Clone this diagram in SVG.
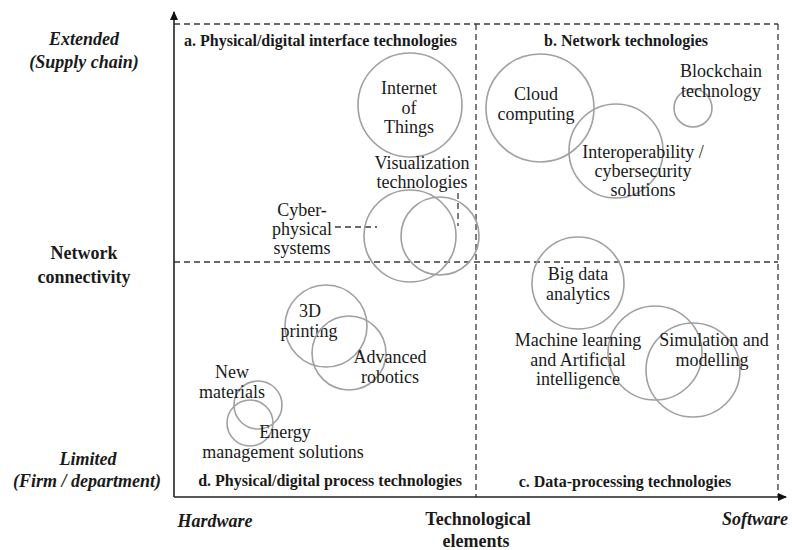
<svg xmlns="http://www.w3.org/2000/svg" width="792" height="550" viewBox="0 0 792 550">
<style>
text{font-family:"Liberation Serif","Times New Roman",serif;fill:#1a1a1a}
.t{font-size:18px;text-anchor:middle}
.sec{font-size:16px;font-weight:bold}
.side{font-size:18px;font-weight:bold;text-anchor:middle}
.it{font-style:italic}
.c{fill:none;stroke:#a0a0a0;stroke-width:1.6}
.dash{fill:none;stroke:#3a3a3a;stroke-width:1.3;stroke-dasharray:6,4}
.axis{fill:none;stroke:#222;stroke-width:1.6}
</style>
<defs>
<marker id="ah" markerWidth="10" markerHeight="10" refX="8" refY="5" orient="auto" markerUnits="userSpaceOnUse">
<path d="M0,1 L9,5 L0,9 Z" fill="#111"/>
</marker>
</defs>
<rect width="792" height="550" fill="#fff"/>
<g id="connectors">
<line class="dash" x1="174" y1="24" x2="778" y2="24"/>
<line class="dash" x1="174" y1="262" x2="778" y2="262"/>
<line class="dash" x1="476" y1="24" x2="476" y2="497"/>
<line class="dash" x1="778" y1="24" x2="778" y2="497"/>
<line class="dash" x1="335" y1="227" x2="377" y2="227"/>
<line class="dash" x1="458" y1="193" x2="458" y2="226" stroke-width="2"/>
<line class="axis" x1="174" y1="497" x2="174" y2="12" marker-end="url(#ah)"/>
<line class="axis" x1="174" y1="497" x2="786" y2="497" marker-end="url(#ah)"/>
</g>
<g id="axis-labels">
<text class="side it" x="84" y="45">Extended</text>
<text class="side it" x="84" y="68">(Supply chain)</text>
<text class="side" x="84" y="259">Network</text>
<text class="side" x="84" y="283">connectivity</text>
<text class="side it" x="88" y="465">Limited</text>
<text class="side it" x="87" y="487">(Firm / department)</text>
<text class="side it" x="215" y="527">Hardware</text>
<text class="side" x="478" y="525">Technological</text>
<text class="side" x="476" y="547">elements</text>
<text class="side it" x="755" y="525">Software</text>
</g>
<g id="quadrant-a">
<text class="sec" x="184" y="46">a. Physical/digital interface technologies</text>
</g>
<g id="quadrant-b">
<text class="sec" x="626" y="46" text-anchor="middle">b. Network technologies</text>
</g>
<g id="quadrant-c">
<text class="sec" x="625" y="487" text-anchor="middle">c. Data-processing technologies</text>
</g>
<g id="quadrant-d">
<text class="sec" x="330" y="486" text-anchor="middle">d. Physical/digital process technologies</text>
</g>
<g id="iot">
<circle class="c" cx="410" cy="105" r="52"/>
<text class="t" x="409" y="94">Internet</text>
<text class="t" x="409" y="114">of</text>
<text class="t" x="409" y="133">Things</text>
</g>
<g id="visualization">
<circle class="c" cx="440" cy="236" r="39"/>
<text class="t" x="422" y="169">Visualization</text>
<text class="t" x="422" y="188">technologies</text>
</g>
<g id="cps">
<circle class="c" cx="410" cy="236" r="46"/>
<text class="t" x="302" y="216">Cyber-</text>
<text class="t" x="302" y="235">physical</text>
<text class="t" x="302" y="254">systems</text>
</g>
<g id="cloud">
<circle class="c" cx="540" cy="108" r="54"/>
<text class="t" x="536" y="100">Cloud</text>
<text class="t" x="536" y="120">computing</text>
</g>
<g id="interop">
<circle class="c" cx="616" cy="151" r="47"/>
<text class="t" x="643" y="158">Interoperability /</text>
<text class="t" x="643" y="177">cybersecurity</text>
<text class="t" x="643" y="196">solutions</text>
</g>
<g id="blockchain">
<circle class="c" cx="693" cy="108" r="19"/>
<text class="t" x="721" y="77">Blockchain</text>
<text class="t" x="721" y="97">technology</text>
</g>
<g id="bigdata">
<circle class="c" cx="578" cy="283" r="46"/>
<text class="t" x="578" y="280">Big data</text>
<text class="t" x="578" y="300">analytics</text>
</g>
<g id="ml">
<circle class="c" cx="655" cy="353" r="47"/>
<text class="t" x="578" y="346">Machine learning</text>
<text class="t" x="578" y="366">and Artificial</text>
<text class="t" x="578" y="385">intelligence</text>
</g>
<g id="simulation">
<circle class="c" cx="693" cy="370" r="47"/>
<text class="t" x="714" y="346">Simulation and</text>
<text class="t" x="712" y="366">modelling</text>
</g>
<g id="printing3d">
<circle class="c" cx="326" cy="326" r="41"/>
<text class="t" x="310" y="317">3D</text>
<text class="t" x="309" y="337">printing</text>
</g>
<g id="robotics">
<circle class="c" cx="349" cy="353" r="37"/>
<text class="t" x="390" y="363">Advanced</text>
<text class="t" x="390" y="383">robotics</text>
</g>
<g id="newmaterials">
<circle class="c" cx="258" cy="405" r="24"/>
<text class="t" x="232" y="378">New</text>
<text class="t" x="232" y="398">materials</text>
</g>
<g id="energy">
<circle class="c" cx="250" cy="423" r="23"/>
<text class="t" x="285" y="438">Energy</text>
<text class="t" x="283" y="458">management solutions</text>
</g>
</svg>
